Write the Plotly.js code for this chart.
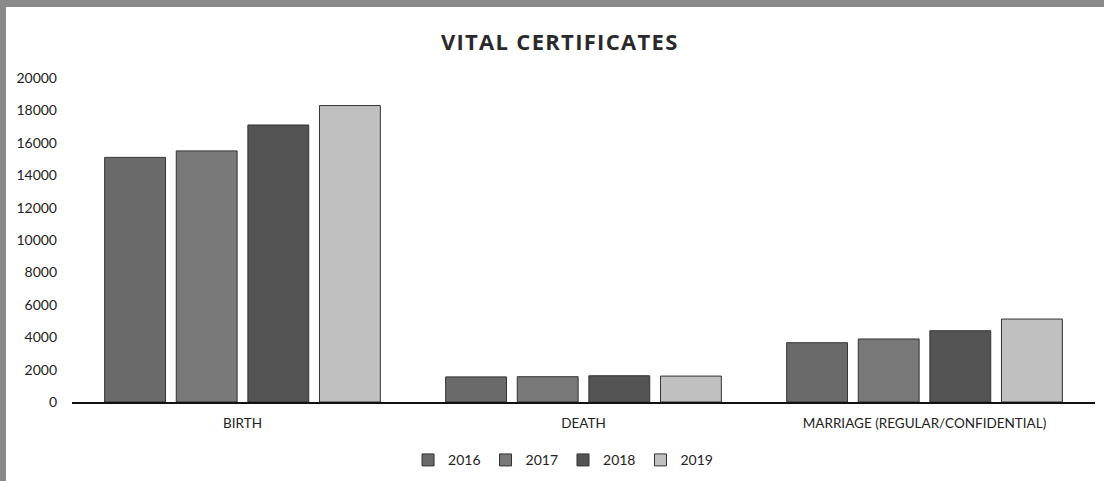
<!DOCTYPE html>
<html>
<head>
<meta charset="utf-8">
<script src="https://cdn.plot.ly/plotly-3.0.1.min.js"></script>
<style>
html,body{margin:0;padding:0;background:#fff;}
#chart{width:1104px;height:481px;}
#chart .gtitle{letter-spacing:1.3px;}
</style>
</head>
<body>
<div id="chart"></div>
<script>
const categories = ["BIRTH", "DEATH", "MARRIAGE (REGULAR/CONFIDENTIAL)"];
const years = ["2016", "2017", "2018", "2019"];
const values2016 = [15100, 1550, 3660];
const values2017 = [15500, 1560, 3890];
const values2018 = [17100, 1620, 4400];
const values2019 = [18300, 1600, 5120];
const seriesValues = [values2016, values2017, values2018, values2019];
const colors = ["#6a6a6a", "#787878", "#545454", "#c0c0c0"];

const traces = years.map((y, i) => ({
  type: "bar",
  name: y,
  x: categories,
  y: seriesValues[i],
  marker: { color: colors[i], line: { color: "#333333", width: 1 } },
  hoverinfo: "x+y+name"
}));

const layout = {
  width: 1104,
  height: 481,
  paper_bgcolor: "#ffffff",
  plot_bgcolor: "#ffffff",
  font: { family: "Lato, 'Open Sans', sans-serif", color: "#222" },
  margin: { l: 72, r: 9, t: 78, b: 79, autoexpand: false },
  barmode: "group",
  bargap: 0.16,
  bargroupgap: 0.15,
  title: {
    text: "<b>VITAL CERTIFICATES</b>",
    font: { family: "'Open Sans', sans-serif", size: 22, color: "#2a2a2a" },
    x: 0.507, xref: "container", xanchor: "center",
    y: 0.913, yref: "container", yanchor: "middle"
  },
  xaxis: {
    type: "category",
    showline: true, linecolor: "#111", linewidth: 1.5,
    ticks: "", showgrid: false,
    ticklabelstandoff: 8,
    tickfont: { size: 13.5, color: "#222" },
    fixedrange: true
  },
  yaxis: {
    range: [0, 20000],
    dtick: 2000,
    tick0: 0,
    showline: false, showgrid: false, zeroline: false,
    ticks: "",
    tickformat: "d",
    ticklabelstandoff: 14,
    tickfont: { size: 14, color: "#222" },
    fixedrange: true
  },
  legend: {
    orientation: "h",
    x: 0.48, xanchor: "center",
    y: -0.18, yanchor: "middle",
    font: { size: 14, color: "#222" },
    itemwidth: 30,
    traceorder: "normal"
  },
  shapes: [
    { type: "rect", xref: "paper", yref: "paper", x0: -72/1023, x1: -66/1023, y0: -80/324, y1: (324+78)/324,
      fillcolor: "#8a8a8a", line: { width: 0 }, layer: "above" },
    { type: "rect", xref: "paper", yref: "paper", x0: -72/1023, x1: (1023+9)/1023, y0: (324+71)/324, y1: (324+78)/324,
      fillcolor: "#8a8a8a", line: { width: 0 }, layer: "above" }
  ]
};

Plotly.newPlot("chart", traces, layout, { displayModeBar: false, staticPlot: true });
</script>
</body>
</html>
